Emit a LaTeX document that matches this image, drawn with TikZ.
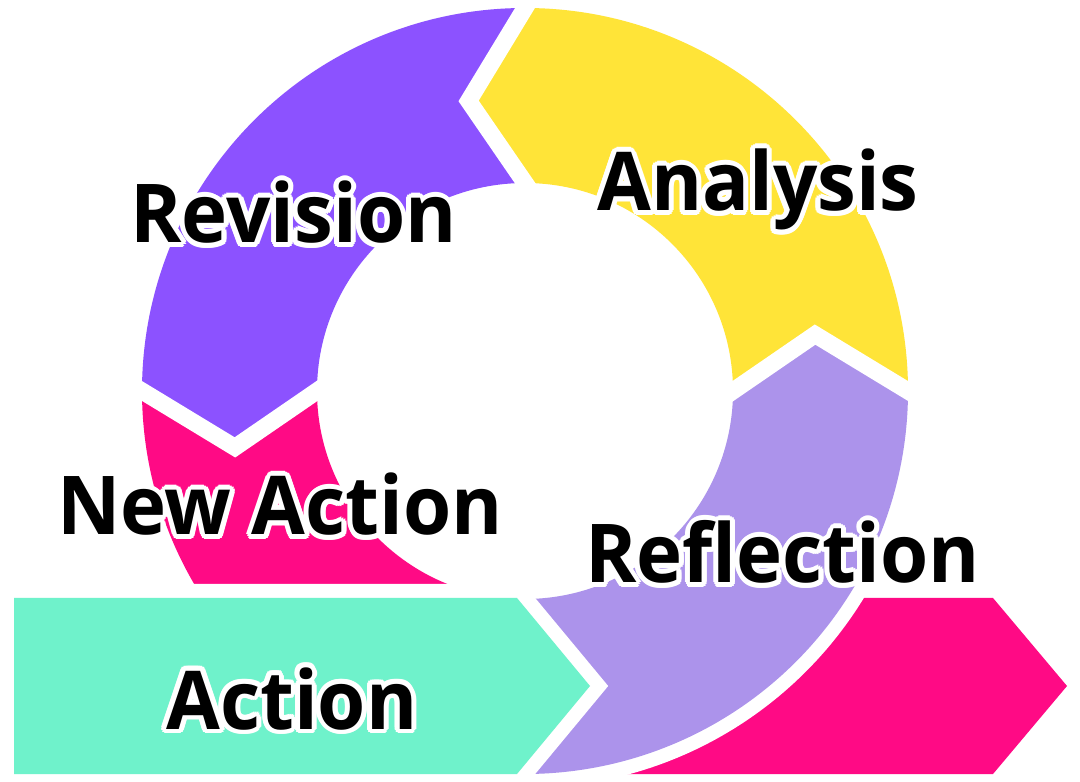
\documentclass[tikz,border=0pt]{standalone}
\usepackage{fontspec}
\setmainfont{Open Sans}[FakeStretch=0.96]
\usetikzlibrary{calc}

\definecolor{revpurple}{HTML}{8C52FF}
\definecolor{anayellow}{HTML}{FFE438}
\definecolor{hotpink}{HTML}{FF0A85}
\definecolor{reflav}{HTML}{AC93EB}
\definecolor{actteal}{HTML}{6FF2CB}

\tikzset{
	lbl/.style={font=\bfseries\fontsize{40.6pt}{48pt}\selectfont, inner sep=0pt, anchor=base},
	halo/.style={lbl, text=white},
}

% one quarter of the ring: colour, start angle, end angle
\newcommand{\ringpart}[3]{%
	\fill[#1] (#2:383) arc[start angle=#2, end angle=#3, radius=383]
		-- ({#3+11}:295.5) -- (#3:208) arc[start angle=#3, end angle=#2, radius=208]
		-- ({#2+11}:295.5) -- cycle;}

\begin{document}
\begin{tikzpicture}[x=0.5pt,y=0.5pt]
	\useasboundingbox[fill=white] (0,0) rectangle (1080,781);

	% arrow behind the ring
	\draw[white, line width=14pt, line join=miter] (560,183) -- (993,183) -- (1067,95) -- (993,7) -- (560,7) -- cycle;
	\fill[hotpink] (560,183) -- (993,183) -- (1067,95) -- (993,7) -- (560,7) -- cycle;
	\fill[white] (525,390) circle[radius=397];

	% the ring
	\begin{scope}[shift={(525,390)}]
		\ringpart{reflav}{265}{360}
		\ringpart{anayellow}{0}{90}
		\ringpart{revpurple}{90}{180}
		\ringpart{hotpink}{180}{265}
		\foreach \b in {0,90,180} {
			\draw[white, line width=8.5pt]
				($(\b:383)!-0.3!({\b+11}:295.5)$) -- ({\b+11}:295.5) -- ($(\b:208)!-0.3!({\b+11}:295.5)$);
		}
	\end{scope}

	% arrow in front
	\draw[white, line width=14pt, line join=miter] (14,183) -- (517,183) -- (590,95) -- (517,7) -- (14,7) -- cycle;
	\fill[actteal] (14,183) -- (517,183) -- (590,95) -- (517,7) -- (14,7) -- cycle;

	% labels with a white edge
	\foreach \id/\px/\py/\txt in {revision/293.5/538/Revision, analysis/758/570/Analysis,
		newaction/280/246/New Action, reflection/782.5/198/Reflection, action/292/52/Action} {
		\foreach \a in {0,22.5,...,337.5}
			\node[halo] at ($(\px,\py)+(\a:5)$) {\txt};
		\node[lbl] (\id) at (\px,\py) {\txt};
	}
\end{tikzpicture}
\end{document}
